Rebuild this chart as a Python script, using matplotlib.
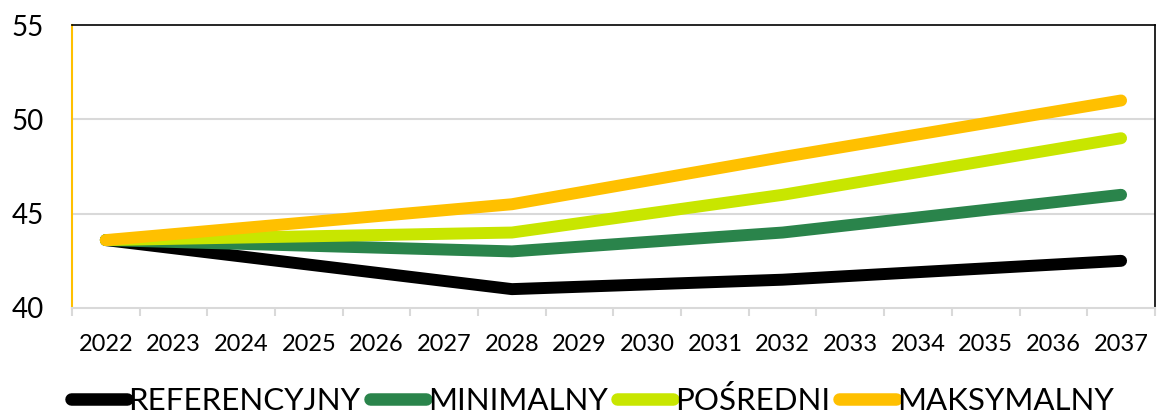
import matplotlib
matplotlib.use("Agg")
import matplotlib.pyplot as plt
import numpy as np
from matplotlib import font_manager

years = [str(y) for y in range(2022, 2038)]
key_years = ["2022", "2028", "2032", "2037"]
series_names = ["REFERENCYJNY", "MINIMALNY", "POŚREDNI", "MAKSYMALNY"]
referencyjny = [43.6, 41.0, 41.5, 42.5]
minimalny = [43.6, 43.0, 44.0, 46.0]
posredni = [43.6, 44.0, 46.0, 49.0]
maksymalny = [43.6, 45.5, 48.0, 51.0]
colors = ["#000000", "#2A844B", "#C8E600", "#FFC000"]
yticks = [40, 45, 50, 55]

names = {f.name for f in font_manager.fontManager.ttflist}
main_font = "Lato" if "Lato" in names else "DejaVu Sans"

fig = plt.figure(figsize=(11.57, 4.17), dpi=100)
ax = fig.add_axes([0.0622, 0.2614, 0.936, 0.6786])

xpos = [years.index(y) for y in key_years]
data = [referencyjny, minimalny, posredni, maksymalny]
handles = []
for name, vals, c in zip(series_names, data, colors):
    h, = ax.plot(xpos, vals, color=c, lw=8.6, solid_capstyle="round",
                 solid_joinstyle="round", label=name)
    handles.append(h)

ax.set_xlim(-0.5, len(years) - 0.5)
ax.set_ylim(40, 55)
ax.set_yticks(yticks)
ax.set_yticklabels([str(v) for v in yticks], fontsize=20, family=main_font)
ax.set_xticks(range(len(years)))
ax.set_xticklabels(years, fontsize=17, family=main_font)
ax.set_xticks(np.arange(-0.5, len(years), 1), minor=True)
ax.tick_params(axis="x", which="major", length=0, pad=19)
ax.tick_params(axis="x", which="minor", length=6, color="#D9D9D9", width=1.5)
ax.tick_params(axis="y", length=0, pad=20)

for v in [45, 50]:
    ax.axhline(v, color="#D9D9D9", lw=1.5, zorder=0)

ax.spines["left"].set_color("#FFC000")
ax.spines["left"].set_linewidth(1.5)
ax.spines["bottom"].set_color("#D9D9D9")
ax.spines["bottom"].set_linewidth(1.5)
ax.spines["top"].set_color("#000000")
ax.spines["top"].set_linewidth(1.2)
ax.spines["right"].set_color("#000000")
ax.spines["right"].set_linewidth(1.2)

leg = fig.legend(handles=handles, loc="center", bbox_to_anchor=(0.512, 0.04),
                 ncol=4, frameon=False, handlelength=1.8, handletextpad=0.05,
                 columnspacing=0.3, borderpad=0, borderaxespad=0,
                 prop={"family": main_font, "size": 22.5})
for line in leg.get_lines():
    line.set_linewidth(9)
    line.set_solid_capstyle("round")

fig.savefig("out.png", dpi=100)
